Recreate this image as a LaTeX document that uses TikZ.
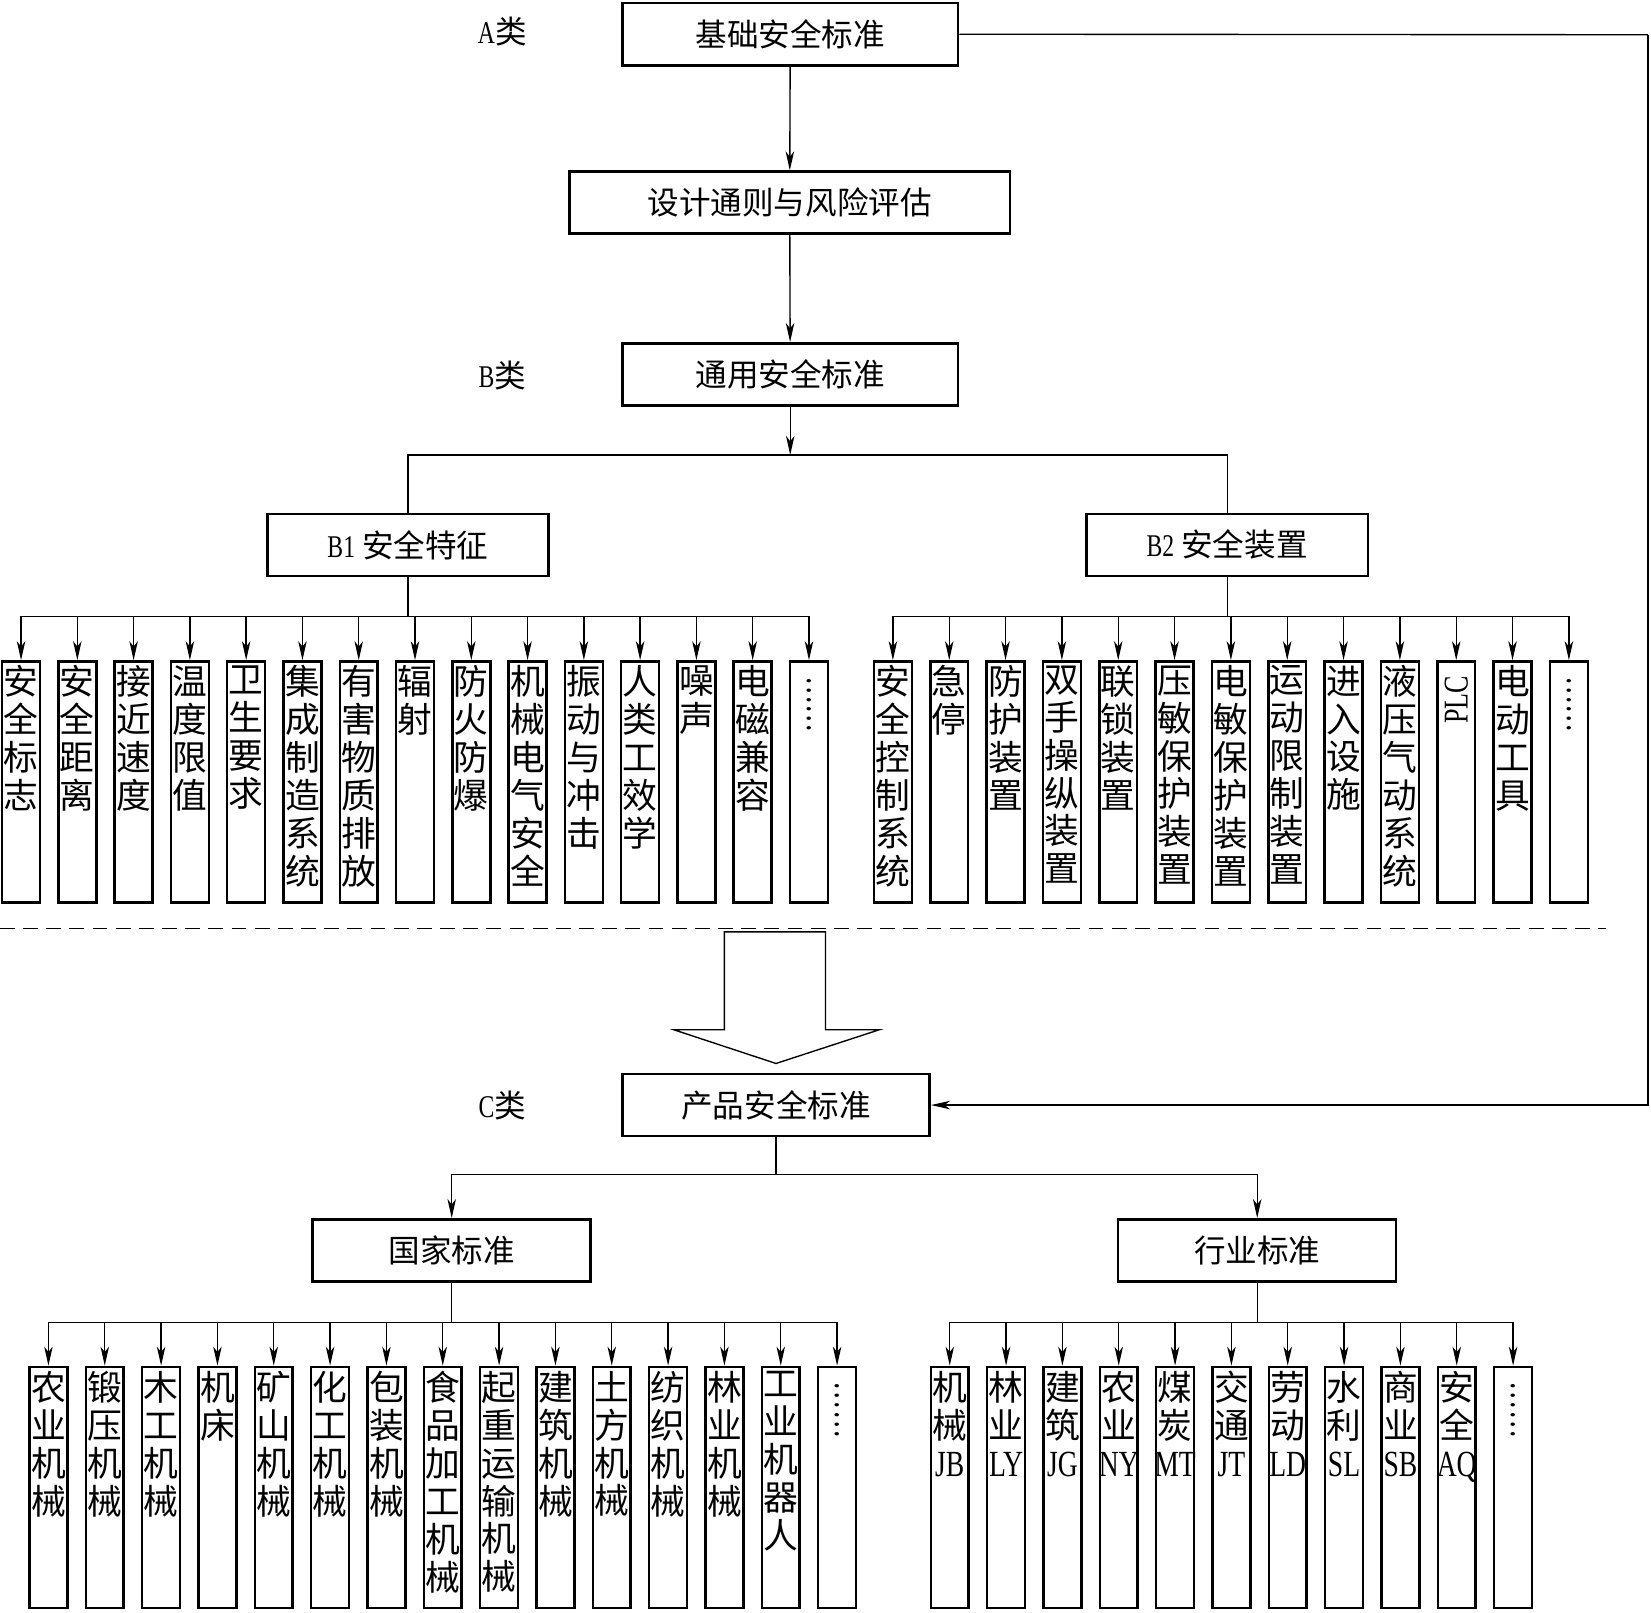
\documentclass[tikz,border=0pt]{standalone}
\usepackage{fontspec}
\setmainfont{Noto Sans CJK SC}
\newfontfamily\lat{Liberation Serif}[FakeStretch=0.75]
\usetikzlibrary{arrows.meta,positioning}
\newcommand{\abbrtxt}[1]{{\lat\fontsize{35}{36}\selectfont #1}}
\newcommand{\vdotstxt}{\rotatebox{-90}{\hspace{10pt}\lat\fontsize{36}{36}\selectfont ……}}

\begin{document}
\begin{tikzpicture}[x=1pt,y=-1pt,
	box/.style={draw, line width=2.4pt, minimum height=59pt, inner sep=0pt, font=\fontsize{30}{30}\selectfont},
	leaf/.style={draw, line width=2.4pt, minimum width=36pt, minimum height=229pt, inner sep=0pt, anchor=north},
	vtxt/.style={anchor=north, align=center, inner sep=0pt, font=\fontsize{33}{36}\selectfont},
	tag/.style={inner sep=0pt, font=\fontsize{30}{30}\selectfont},
	link/.style={line width=1.3pt},
	arr/.style={link, -{Stealth[length=18pt,width=8pt,inset=5pt]}}]
	\useasboundingbox (0,0) rectangle (1568,1531);

	% A / B / C levels
	\node[tag] (taga) at (477,30) {{\lat A}类};
	\node[tag] (tagb) at (477,357) {{\lat B}类};
	\node[tag] (tagc) at (477,1050) {{\lat C}类};

	\node[box, minimum width=319pt] (base) at (750.5,32.5) {基础安全标准};
	\node[box, minimum width=418pt] (risk) at (750,192.5) {设计通则与风险评估};
	\node[box, minimum width=319pt] (gen) at (750.5,355.5) {通用安全标准};
	\node[box, minimum width=267pt] (b1) at (387.5,517.5) {{\lat B1} 安全特征};
	\node[box, minimum width=267pt] (b2) at (1165.5,517.5) {{\lat B2} 安全装置};
	\node[box, minimum width=292pt] (prod) at (737,1049.5) {产品安全标准};
	\node[box, minimum width=264pt] (nat) at (429,1187.5) {国家标准};
	\node[box, minimum width=264pt] (ind) at (1194,1187.5) {行业标准};

	\draw[arr] (base) -- (risk);
	\draw[arr] (risk) -- (gen);
	\coordinate (busb) at (750.5,432);
	\draw[arr] (gen) -- (busb);
	\draw[link] (b1.north) |- (busb) -| (b2.north);

	\coordinate (fb) at (1565,33);
	\draw[link] (base.east) -- (fb);
	\draw[arr] (fb) |- (prod.east);

	% B1 safety features
	\foreach \t [count=\i] in {{安\\全\\标\\志},{安\\全\\距\\离},{接\\近\\速\\度},{温\\度\\限\\值},
		{卫\\生\\要\\求},{集\\成\\制\\造\\系\\统},{有\\害\\物\\质\\排\\放},{辐\\射},{防\\火\\防\\爆},
		{机\\械\\电\\气\\安\\全},{振\\动\\与\\冲\\击},{人\\类\\工\\效\\学},{噪\\声},{电\\磁\\兼\\容},{\vdotstxt}} {
		\node[leaf] (fa\i) at ({20+53.45*(\i-1)},627) {};
		\node[vtxt] (fat\i) at ([yshift=-5pt]fa\i.north) {\t};
		\draw[arr] (b1.south) -- ++(0,37) -| (fa\i.north);
	}

	% B2 safety devices
	\foreach \t [count=\i] in {{安\\全\\控\\制\\系\\统},{急\\停},{防\\护\\装\\置},{双\\手\\操\\纵\\装\\置},
		{联\\锁\\装\\置},{压\\敏\\保\\护\\装\\置},{电\\敏\\保\\护\\装\\置},{运\\动\\限\\制\\装\\置},
		{进\\入\\设\\施},{液\\压\\气\\动\\系\\统},{\rotatebox{90}{\lat\fontsize{33}{33}\selectfont PLC\hspace{10pt}}},
		{电\\动\\工\\具},{\vdotstxt}} {
		\node[leaf] (dv\i) at ({848+53.5*(\i-1)},627) {};
		\node[vtxt] (dvt\i) at ([yshift=-5pt]dv\i.north) {\t};
		\draw[arr] (b2.south) -- ++(0,37) -| (dv\i.north);
	}

	% separation and transfer to C
	\draw[link, dash pattern=on 14pt off 8pt] (0,882) -- (1525,882);
	\draw[link] (688,885) -- (784,885) -- (784,978) -- (835,978) -- (737,1010)
		-- (640,978) -- (688,978) -- cycle;

	\draw[link] (prod.south) -- ++(0,35) coordinate (busc);
	\draw[arr] (busc) -| (nat.north);
	\draw[arr] (busc) -| (ind.north);

	% national standards
	\foreach \t [count=\i] in {{农\\业\\机\\械},{锻\\压\\机\\械},{木\\工\\机\\械},{机\\床},{矿\\山\\机\\械},
		{化\\工\\机\\械},{包\\装\\机\\械},{食\\品\\加\\工\\机\\械},{起\\重\\运\\输\\机\\械},{建\\筑\\机\\械},
		{土\\方\\机\\械},{纺\\织\\机\\械},{林\\业\\机\\械},{工\\业\\机\\器\\人},{\vdotstxt}} {
		\node[leaf] (gb\i) at ({46+53.5*(\i-1)},1297) {};
		\node[vtxt] (gbt\i) at ([yshift=-5pt]gb\i.north) {\t};
		\draw[arr] (nat.south) -- ++(0,38) -| (gb\i.north);
	}

	% industry standards
	\foreach \t [count=\i] in {{机\\械\\\abbrtxt{JB}},{林\\业\\\abbrtxt{LY}},{建\\筑\\\abbrtxt{JG}},
		{农\\业\\\abbrtxt{NY}},{煤\\炭\\\abbrtxt{MT}},{交\\通\\\abbrtxt{JT}},{劳\\动\\\abbrtxt{LD}},
		{水\\利\\\abbrtxt{SL}},{商\\业\\\abbrtxt{SB}},{安\\全\\\abbrtxt{AQ}},{\vdotstxt}} {
		\node[leaf] (hy\i) at ({902+53.5*(\i-1)},1297) {};
		\node[vtxt] (hyt\i) at ([yshift=-5pt]hy\i.north) {\t};
		\draw[arr] (ind.south) -- ++(0,38) -| (hy\i.north);
	}
\end{tikzpicture}
\end{document}
